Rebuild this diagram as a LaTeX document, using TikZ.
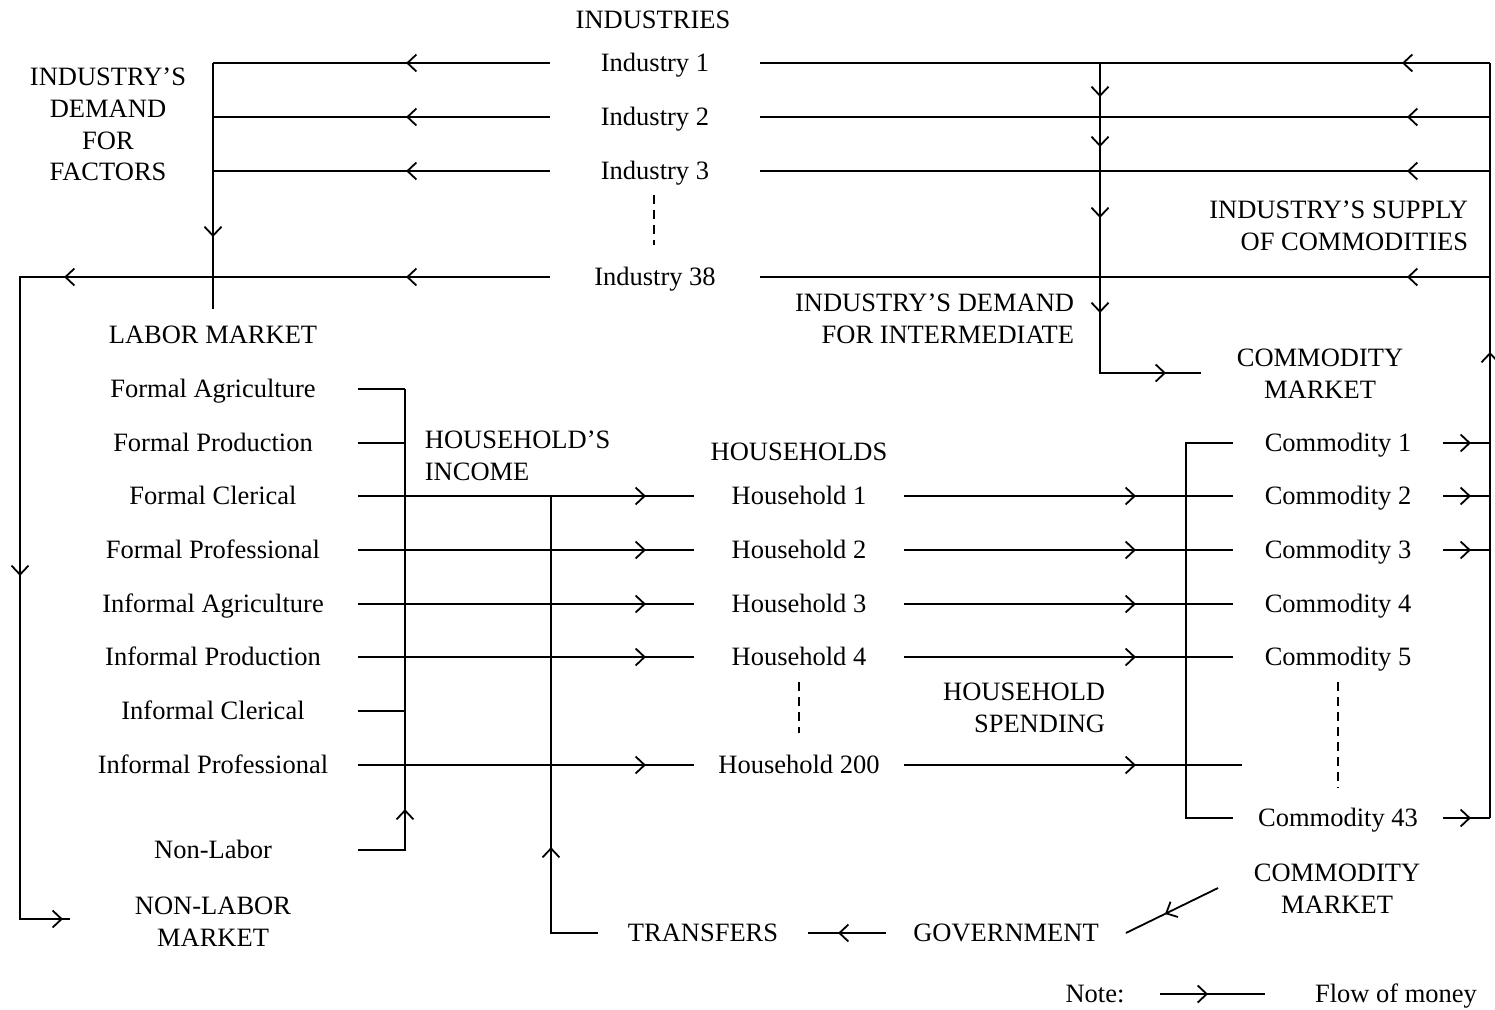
\documentclass[tikz,border=0pt]{standalone}
\usepackage{fontspec}
\setmainfont{Liberation Serif}
\usetikzlibrary{arrows.meta,decorations.markings}
\tikzset{
  >={Straight Barb[length=9pt,width=17pt]},
  flow/.style={postaction={decorate,decoration={markings,mark=at position #1 with {\arrow{>}}}}},
  lbl/.style={inner sep=0pt,text height=17.4pt,text depth=0pt},
  slot/.style={lbl,minimum width=208pt},
  labslot/.style={lbl,minimum width=288pt},
  capsbox/.style={inner sep=0pt},
  dots/.style={line width=2pt,dash pattern=on 9pt off 6pt},
}
\begin{document}
\begin{tikzpicture}[x=1pt,y=-1pt,font=\fontsize{26.5pt}{31.7pt}\selectfont,line width=1.8pt]
\useasboundingbox (0,0) rectangle (1495,1009);

% ---------- industries ----------
\node[lbl] (industries) at (653,20) {INDUSTRIES};
\node[slot] (ind1) at (655,63) {Industry 1};
\node[slot] (ind2) at (655,117) {Industry 2};
\node[slot] (ind3) at (655,171) {Industry 3};
\node[slot] (ind38) at (655,277) {Industry 38};
\draw[dots] (654,195) -- (654,245);

% ---------- labels ----------
\node[capsbox,align=center] (idf) at (108,124.5) {INDUSTRY’S\\DEMAND\\FOR\\FACTORS};
\node[lbl] (labmkt) at (213,335) {LABOR MARKET};
\node[capsbox,align=right,anchor=east] (isc) at (1469,226) {INDUSTRY’S SUPPLY\\OF COMMODITIES};
\node[capsbox,align=right,anchor=east] (idi) at (1075,319) {INDUSTRY’S DEMAND\\FOR INTERMEDIATE};
\node[capsbox,align=center] (cmtop) at (1320,374) {COMMODITY\\MARKET};
\node[capsbox,align=left,anchor=west] (hinc) at (424,456) {HOUSEHOLD’S\\INCOME};
\node[lbl] (hhs) at (799,452) {HOUSEHOLDS};
\node[capsbox,align=right,anchor=east] (hsp) at (1106,708) {HOUSEHOLD\\SPENDING};
\node[capsbox,align=center] (cmbot) at (1337,889) {COMMODITY\\MARKET};
\node[capsbox,align=center] (nlm) at (213,922) {NON-LABOR\\MARKET};
\node[lbl] (note) at (1095,994) {Note:};
\node[lbl] (flowtxt) at (1396,994) {Flow of money};

% ---------- labour categories ----------
\node[labslot] (fa) at (213,389) {Formal Agriculture};
\node[labslot] (fp) at (213,443) {Formal Production};
\node[labslot] (fc) at (213,496) {Formal Clerical};
\node[labslot] (fpro) at (213,550) {Formal Professional};
\node[labslot] (ia) at (213,604) {Informal Agriculture};
\node[labslot] (ip) at (213,657) {Informal Production};
\node[labslot] (ic) at (213,711) {Informal Clerical};
\node[labslot] (iprof) at (213,765) {Informal Professional};
\node[labslot] (nonlab) at (213,850) {Non-Labor};

% ---------- households ----------
\node[slot] (hh1) at (799,496) {Household 1};
\node[slot] (hh2) at (799,550) {Household 2};
\node[slot] (hh3) at (799,604) {Household 3};
\node[slot] (hh4) at (799,657) {Household 4};
\node[slot] (hh200) at (799,765) {Household 200};
\draw[dots] (799,682) -- (799,733);

% ---------- commodities ----------
\node[slot] (comm1) at (1338,443) {Commodity 1};
\node[slot] (comm2) at (1338,496) {Commodity 2};
\node[slot] (comm3) at (1338,550) {Commodity 3};
\node[slot] (comm4) at (1338,604) {Commodity 4};
\node[slot] (comm5) at (1338,657) {Commodity 5};
\node[slot] (comm43) at (1338,818) {Commodity 43};
\draw[dots] (1338,682) -- (1338,788);

% ---------- government ----------
\node[slot] (tr) at (703,933) {TRANSFERS};
\node[lbl,minimum width=238pt] (gov) at (1006,933) {GOVERNMENT};

% ---------- coordinates ----------
\coordinate (lmtop) at (213,63);
\coordinate (lmbot) at (213,309);
\coordinate (lcol) at (20,277);
\coordinate (nlmin) at (70,919);
\coordinate (rtop) at (1490,63);
\coordinate (rbot) at (1490,818);
\coordinate (imtop) at (1100,63);
\coordinate (cmin) at (1201,373);
\coordinate (inctop) at (405,389);
\coordinate (incbot) at (405,850);
\coordinate (trtop) at (551,496);
\coordinate (cvtop) at (1186,443);
\coordinate (cvbot) at (1186,818);
\coordinate (hhend) at (1242,765);
\coordinate (cmout) at (1218,888);
\coordinate (notea) at (1160,994);
\coordinate (noteb) at (1265,994);

% ---------- industries -> factor markets ----------
\draw[flow=144pt] (ind1.west) -- (lmtop);
\draw[flow=144pt] (ind2.west) -- (ind2.west -| lmtop);
\draw[flow=144pt] (ind3.west) -- (ind3.west -| lmtop);
\draw[flow=174pt] (lmtop) -- (lmbot);
\draw[flow=144pt,flow=486pt,flow=829pt,flow=1215pt] (ind38.west) -- (lcol) -- (lcol |- nlmin) -- (nlmin);

% ---------- commodity market -> industries ----------
\draw[flow=88pt] (rtop) -- (ind1.east);
\draw[flow=83pt] (ind2.east -| rtop) -- (ind2.east);
\draw[flow=83pt] (ind3.east -| rtop) -- (ind3.east);
\draw[flow=83pt] (ind38.east -| rtop) -- (ind38.east);
\draw[flow=466pt] (rbot) -- (rtop);
\draw[flow=28pt] (comm1.east) -- (comm1.east -| rtop);
\draw[flow=28pt] (comm2.east) -- (comm2.east -| rtop);
\draw[flow=28pt] (comm3.east) -- (comm3.east -| rtop);
\draw[flow=28pt] (comm43.east) -- (rbot);

% ---------- intermediate demand ----------
\draw[flow=34pt,flow=84pt,flow=155pt,flow=250pt,flow=376pt] (imtop) -- (imtop |- cmin) -- (cmin);

% ---------- household income ----------
\draw (fa.east) -- (inctop);
\draw (fp.east) -- (fp.east -| inctop);
\draw (ic.east) -- (ic.east -| inctop);
\draw[flow=88pt] (nonlab.east) -- (incbot) -- (inctop);
\draw[flow=288pt] (fc.east) -- (hh1.west);
\draw[flow=288pt] (fpro.east) -- (hh2.west);
\draw[flow=288pt] (ia.east) -- (hh3.west);
\draw[flow=288pt] (ip.east) -- (hh4.west);
\draw[flow=288pt] (iprof.east) -- (hh200.west);

% ---------- transfers ----------
\draw[flow=133pt] (tr.west) -- (tr.west -| trtop) -- (trtop);
\draw[flow=48pt] (gov.west) -- (tr.east);
\draw[flow=59pt] (cmout) -- (gov.east);

% ---------- household spending ----------
\draw[flow=232pt] (hh1.east) -- (comm2.west);
\draw[flow=232pt] (hh2.east) -- (comm3.west);
\draw[flow=232pt] (hh3.east) -- (comm4.west);
\draw[flow=232pt] (hh4.east) -- (comm5.west);
\draw[flow=232pt] (hh200.east) -- (hhend);
\draw (comm1.west) -- (cvtop) -- (cvbot) -- (comm43.west);

% ---------- note ----------
\draw[flow=48pt] (notea) -- (noteb);
\end{tikzpicture}
\end{document}
